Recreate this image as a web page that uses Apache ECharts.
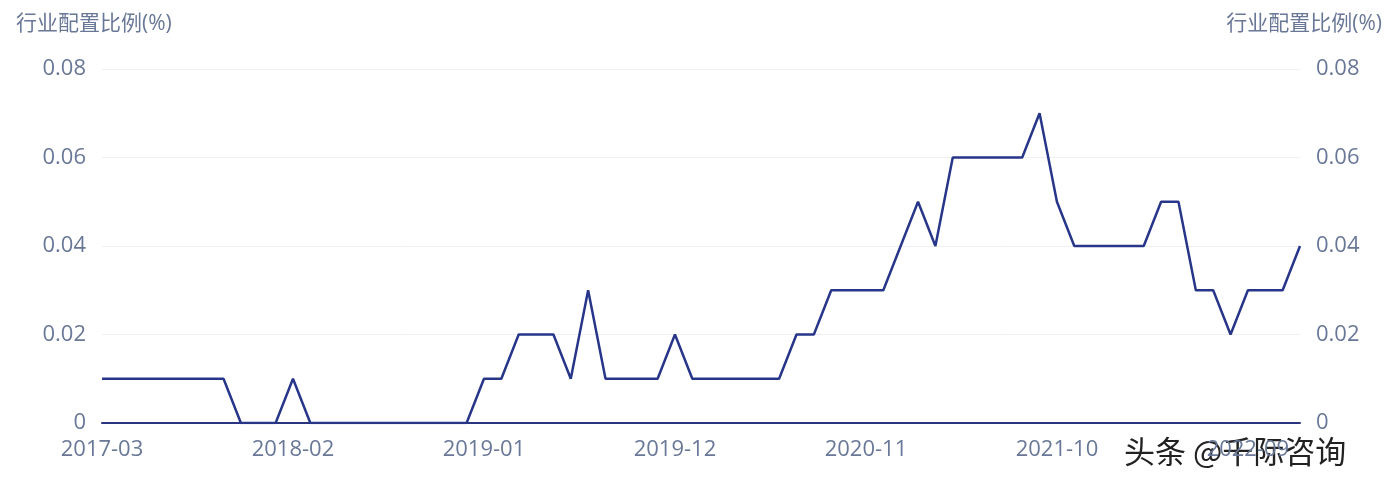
<!DOCTYPE html>
<html><head><meta charset="utf-8">
<script src="https://cdn.jsdelivr.net/npm/echarts@6/dist/echarts.min.js"></script>
<style>html,body{margin:0;background:#fff}#c{width:1392px;height:486px}</style>
</head><body><div id="c"></div>
<script>
const startYear = 2017, startMonth = 3, monthCount = 70;
const values = [0.01,0.01,0.01,0.01,0.01,0.01,0.01,0.01,0,0,0,0.01,0,0,0,0,0,0,0,0,0,0,
0.01,0.01,0.02,0.02,0.02,0.01,0.03,0.01,0.01,0.01,0.01,0.02,0.01,0.01,0.01,0.01,0.01,0.01,
0.02,0.02,0.03,0.03,0.03,0.03,0.04,0.05,0.04,0.06,0.06,0.06,0.06,0.06,0.07,0.05,0.04,0.04,
0.04,0.04,0.04,0.05,0.05,0.03,0.03,0.02,0.03,0.03,0.03,0.04];
const categories = [];
for (let i = 0; i < monthCount; i++) {
  const m = startMonth - 1 + i;
  categories.push((startYear + Math.floor(m / 12)) + '-' + String(m % 12 + 1).padStart(2, '0'));
}
const yTicks = [0, 0.02, 0.04, 0.06, 0.08];
const axisName = '行业配置比例(%)';
const watermark = '头条 @千际咨询';
const font = '"Open Sans", "Noto Sans CJK SC", sans-serif';
const labelColor = '#6a7898';
const chart = echarts.init(document.getElementById('c'));
const yAxisBase = {
  type: 'value', min: yTicks[0], max: yTicks[yTicks.length - 1], interval: 0.02,
  name: axisName, nameGap: 34,
  nameTextStyle: {color: labelColor, fontSize: 21, fontFamily: font},
  axisLabel: {color: labelColor, fontSize: 22, fontFamily: font, margin: 16,
    formatter: v => v === 0 ? '0' : v.toFixed(2)},
  axisLine: {show: false}, axisTick: {show: false},
  splitLine: {lineStyle: {color: '#eef0f6'}}
};
chart.setOption({
  animation: false,
  grid: {left: 102, right: 92, top: 69, bottom: 63},
  xAxis: {
    type: 'category', data: categories, boundaryGap: false,
    axisLine: {lineStyle: {color: '#2a3580', width: 2}},
    axisTick: {show: false},
    axisLabel: {color: labelColor, fontSize: 22, fontFamily: font, interval: 10, margin: 16}
  },
  yAxis: [
    Object.assign({}, yAxisBase, {position: 'left', nameTextStyle: Object.assign({}, yAxisBase.nameTextStyle, {align: 'left', padding: [0,0,0,-86]})}),
    Object.assign({}, yAxisBase, {position: 'right', nameTextStyle: Object.assign({}, yAxisBase.nameTextStyle, {align: 'right', padding: [0,-82,0,0]}), axisLabel: Object.assign({}, yAxisBase.axisLabel, {align: 'left'})})
  ],
  series: [{
    type: 'line', data: values, symbol: 'none',
    lineStyle: {color: '#28368a', width: 2.5}
  }],
  graphic: [{
    type: 'text', left: 1120, top: 434,
    style: {text: watermark, fontSize: 31, fill: '#222', fontFamily: '"Noto Sans CJK SC", sans-serif',
      backgroundColor: 'rgba(255,255,255,0.85)', padding: [2, 4]}
  }]
});
</script></body></html>
